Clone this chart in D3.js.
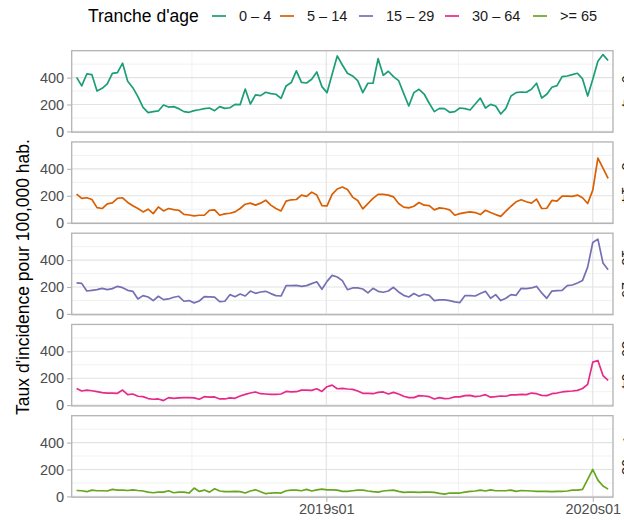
<!DOCTYPE html>
<html>
<head>
<meta charset="utf-8">
<script src="https://cdn.jsdelivr.net/npm/d3@7"></script>
<style>
  html, body { margin: 0; padding: 0; background: #fff; }
  text { font-family: "Liberation Sans", Arial, sans-serif; }
</style>
</head>
<body>
<div id="chart"></div>
<script>
// weekly incidence by age group, 2018s04 -> 2020s04
const groups = ['0 – 4', '5 – 14', '15 – 29', '30 – 64', '>= 65'];
const colors = ['#1B9E77', '#D95F02', '#7570B3', '#E7298A', '#66A61E'];

const weeks = d3.utcWednesday.range(new Date(Date.UTC(2018, 0, 24)), new Date(Date.UTC(2020, 0, 23)));

const age0_4 = [402,338,427,422,300,320,353,432,437,507,373,325,258,179,139,147,152,196,181,184,
  169,147,142,154,161,169,174,154,184,171,176,201,199,315,204,271,266,291,281,276,
  246,338,363,450,365,360,388,442,333,288,425,561,494,432,412,378,288,358,358,541,
  417,447,407,378,283,189,288,313,278,209,147,171,169,142,147,174,169,159,204,248,
  174,201,189,129,171,263,288,293,291,313,358,248,276,328,340,407,412,422,432,390,
  263,388,522,571,527];
const age5_14 = [212,180,185,172,112,105,140,147,180,185,150,125,105,80,100,67,117,87,105,97,
  92,62,57,50,55,55,92,95,55,65,70,80,105,137,145,130,145,167,130,105,
  87,160,170,172,205,195,227,205,127,125,210,250,265,247,190,165,102,142,180,210,
  210,205,192,142,115,110,122,150,130,127,95,110,105,95,55,67,75,80,75,60,
  92,75,60,47,85,122,155,170,155,145,175,105,107,165,160,197,197,195,205,185,
  142,242,480,405,330];
const age15_29 = [230,227,170,175,180,190,180,188,205,195,175,168,111,136,126,99,131,106,111,124,
  131,94,99,82,96,128,126,124,91,94,143,128,148,133,170,153,163,168,151,136,
  133,210,210,212,205,210,225,239,183,242,286,274,247,180,193,193,185,156,190,168,
  161,170,198,163,138,126,151,131,146,138,99,104,104,99,89,84,136,136,133,151,
  168,116,143,99,116,143,138,190,188,193,205,156,116,170,173,175,210,215,230,249,
  348,531,556,378,329];
const age30_64 = [124,105,112,107,100,93,90,90,88,112,78,83,66,63,49,44,46,34,56,51,
  54,56,56,54,44,63,59,61,46,46,54,51,68,80,90,98,85,83,80,80,
  83,102,98,100,112,112,110,122,102,137,149,122,124,120,117,105,88,88,85,95,
  98,83,95,83,66,56,56,71,68,63,46,56,49,51,61,61,71,73,63,68,
  78,59,63,68,66,76,76,80,78,90,85,73,71,85,90,98,102,105,110,124,
  154,320,332,220,185];
const age65 = [44,42,35,47,42,42,40,52,47,47,44,49,44,40,32,27,32,32,42,27,
  32,32,25,62,37,47,32,57,40,35,35,37,35,25,40,49,35,20,25,27,
  25,42,47,47,42,52,40,49,54,49,49,47,37,37,42,47,47,40,35,32,
  40,44,47,37,30,32,32,30,32,32,30,22,17,25,25,25,32,37,40,47,
  40,49,42,42,42,47,37,44,42,40,37,37,37,35,37,37,40,47,47,52,
  126,200,121,77,54];

const series = [age0_4, age5_14, age15_29, age30_64, age65];

const yTicks = [0, 200, 400];
const yMinor = [100, 300, 500];
const xTickDates = [new Date(Date.UTC(2019, 0, 1)), new Date(Date.UTC(2020, 0, 1))];
const xTickLabels = ['2019s01', '2020s01'];
const xMinorDates = [new Date(Date.UTC(2018, 6, 1)), new Date(Date.UTC(2019, 6, 1))];

const width = 624, height = 521;
const left = 71.7, right = 613;
const panelTop = 50.7, panelStep = 91.25, panelH = 81.5;

const svg = d3.select('#chart').append('svg')
  .attr('width', width).attr('height', height)
  .style('display', 'block');

svg.append('rect').attr('width', width).attr('height', height).attr('fill', '#fff');

// x scale with a small expansion on both sides
const t0 = weeks[0], t1 = weeks[weeks.length - 1];
const pad = (t1 - t0) * 0.0092;
const x = d3.scaleUtc()
  .domain([new Date(+t0 - pad), new Date(+t1 + pad)])
  .range([left, right]);

const y = d3.scaleLinear().domain([-6, 600]).range([panelH, 0]);

const line = d3.line()
  .x((d, i) => x(weeks[i]))
  .y(d => y(d));

series.forEach((vals, k) => {
  const g = svg.append('g').attr('transform', `translate(0,${panelTop + k * panelStep})`);

  // grid
  g.selectAll('.hmin').data(yMinor).join('line')
    .attr('x1', left).attr('x2', right)
    .attr('y1', d => y(d)).attr('y2', d => y(d))
    .attr('stroke', '#ededed').attr('stroke-width', 0.8);
  g.selectAll('.vmin').data(xMinorDates).join('line')
    .attr('x1', d => x(d)).attr('x2', d => x(d))
    .attr('y1', 0).attr('y2', panelH)
    .attr('stroke', '#ededed').attr('stroke-width', 0.8);
  g.selectAll('.hmaj').data(yTicks).join('line')
    .attr('x1', left).attr('x2', right)
    .attr('y1', d => y(d)).attr('y2', d => y(d))
    .attr('stroke', '#e2e2e2').attr('stroke-width', 1.1);
  g.selectAll('.vmaj').data(xTickDates).join('line')
    .attr('x1', d => x(d)).attr('x2', d => x(d))
    .attr('y1', 0).attr('y2', panelH)
    .attr('stroke', '#e2e2e2').attr('stroke-width', 1.1);

  // series
  g.append('path')
    .datum(vals)
    .attr('d', line)
    .attr('fill', 'none')
    .attr('stroke', colors[k])
    .attr('stroke-width', 1.7)
    .attr('stroke-linejoin', 'round');

  // border
  g.append('rect')
    .attr('x', left).attr('y', 0)
    .attr('width', right - left).attr('height', panelH)
    .attr('fill', 'none').attr('stroke', '#b3b3b3').attr('stroke-width', 1.3);

  // y axis
  const ya = g.append('g').attr('transform', `translate(${left - 0.6},0)`)
    .call(d3.axisLeft(y).tickValues(yTicks).tickSize(4).tickPadding(3));
  ya.select('.domain').remove();
  ya.selectAll('line').attr('stroke', '#b3b3b3').attr('stroke-width', 1.1);
  ya.selectAll('text')
    .attr('fill', '#4d4d4d')
    .style('font-size', '14.5px')
    .style('font-family', '"Liberation Sans", Arial, sans-serif');

  // strip label (cut off at the right edge)
  g.append('text')
    .attr('transform', `translate(621.5,${panelH / 2}) rotate(90)`)
    .attr('text-anchor', 'middle')
    .attr('fill', '#1a1a1a')
    .style('font-size', '14.5px')
    .text(groups[k]);

  if (k === series.length - 1) {
    const xa = g.append('g').attr('transform', `translate(0,${panelH + 0.6})`)
      .call(d3.axisBottom(x).tickValues(xTickDates)
        .tickFormat((d, i) => xTickLabels[i]).tickSize(4).tickPadding(2));
    xa.select('.domain').remove();
    xa.selectAll('line').attr('stroke', '#b3b3b3').attr('stroke-width', 1.1);
    xa.selectAll('text')
      .attr('fill', '#4d4d4d')
      .style('font-size', '14.5px')
      .style('font-family', '"Liberation Sans", Arial, sans-serif');
  }
});

// y title
svg.append('text')
  .attr('transform', `translate(29,277) rotate(-90)`)
  .attr('text-anchor', 'middle')
  .attr('fill', '#000')
  .style('font-size', '17.5px')
  .text("Taux d'incidence pour 100,000 hab.");

// legend
const legend = svg.append('g');
legend.append('text')
  .attr('x', 88).attr('y', 16)
  .attr('dominant-baseline', 'central')
  .attr('fill', '#000')
  .style('font-size', '17.5px')
  .text("Tranche d'age");

const keyX = [219, 287, 366, 452, 540];
const labelX = [239, 307, 386, 472, 560];
groups.forEach((name, k) => {
  legend.append('line')
    .attr('x1', keyX[k] - 7).attr('x2', keyX[k] + 7)
    .attr('y1', 16).attr('y2', 16)
    .attr('stroke', colors[k]).attr('stroke-width', 1.7);
  legend.append('text')
    .attr('x', labelX[k]).attr('y', 16)
    .attr('dominant-baseline', 'central')
    .attr('fill', '#1a1a1a')
    .style('font-size', '14.5px')
    .text(name);
});
</script>
</body>
</html>
